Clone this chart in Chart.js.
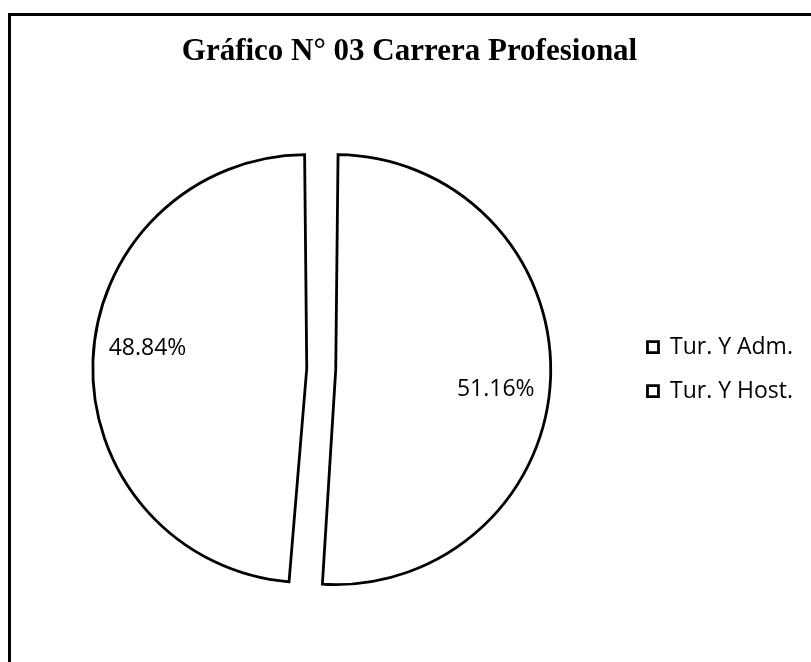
<!DOCTYPE html>
<html>
<head>
<meta charset="utf-8">
<script src="https://cdn.jsdelivr.net/npm/chart.js@4.4.1/dist/chart.umd.min.js"></script>
<style>
  html, body { margin: 0; padding: 0; background: #fff; overflow: hidden; }
  #frame {
    position: absolute; left: 8px; top: 13px; width: 900px; height: 800px;
    border-left: 3px solid #000; border-top: 3px solid #000;
  }
  #wrap { position: absolute; left: 0; top: 0; width: 811px; height: 662px; }
</style>
</head>
<body>
<div id="frame"></div>
<div id="wrap"><canvas id="myChart" width="811" height="662"></canvas></div>
<script>
"use strict";

// values
var categories = ['Tur. Y Adm.', 'Tur. Y Host.'];
var percentages = [51.16, 48.84];
var pctLabels = ['51.16%', '48.84%'];

// draws the percentage inside the end of each slice
var sliceLabels = {
  id: 'sliceLabels',
  afterDatasetsDraw: function(chart) {
    var ctx = chart.ctx;
    var meta = chart.getDatasetMeta(0);
    var offset = chart.data.datasets[0].offset;
    ctx.save();
    ctx.font = '23px "Open Sans"';
    ctx.fillStyle = '#000';
    ctx.textAlign = 'center';
    ctx.textBaseline = 'middle';
    meta.data.forEach(function(arc, i) {
      var p = arc.getProps(['x', 'y', 'startAngle', 'endAngle', 'outerRadius', 'circumference'], true);
      var mid = (p.startAngle + p.endAngle) / 2;
      // the arc element moves by offset/4 and grows its radius a bit
      var shift = offset / 4;
      var grow = shift * (1 - Math.sin(Math.min(Math.PI, p.circumference)));
      var cx = p.x + Math.cos(mid) * shift;
      var cy = p.y + Math.sin(mid) * shift;
      var a = mid + 5 * Math.PI / 180;
      var r = (p.outerRadius + grow) * 0.75;
      ctx.fillText(pctLabels[i], cx + Math.cos(a) * r, cy + Math.sin(a) * r);
    });
    ctx.restore();
  }
};

var ctx = document.getElementById('myChart').getContext('2d');
var chart = new Chart(ctx, {
  type: 'pie',
  data: {
    labels: categories,
    datasets: [{
      data: percentages,
      backgroundColor: '#ffffff',
      borderColor: '#000000',
      borderWidth: 2.8,
      borderJoinStyle: 'miter',
      offset: 58,
      radius: 200.5
    }]
  },
  options: {
    responsive: false,
    animation: false,
    events: [],
    layout: { padding: { left: 16, right: 8, top: 0, bottom: 54 } },
    plugins: {
      title: {
        display: true,
        text: 'Gráfico N° 03 Carrera Profesional',
        color: '#000',
        font: { family: '"Liberation Serif", "Times New Roman", serif', size: 31, weight: 'bold' },
        padding: { top: 33, bottom: 60 }
      },
      legend: {
        position: 'right',
        fullSize: false,
        labels: {
          color: '#000',
          font: { family: '"Open Sans"', size: 23 },
          boxWidth: 11,
          boxHeight: 11,
          padding: 21
        }
      },
      tooltip: { enabled: false }
    }
  },
  plugins: [sliceLabels]
});
</script>
</body>
</html>
